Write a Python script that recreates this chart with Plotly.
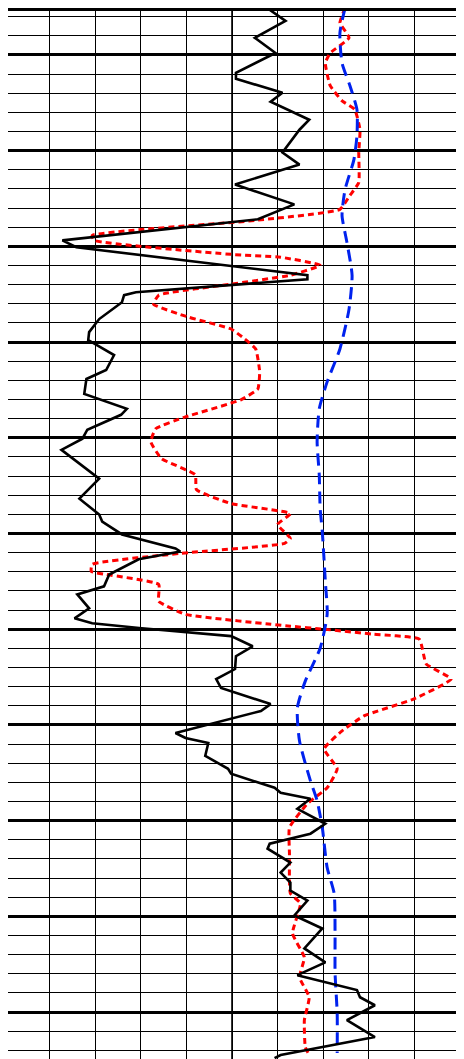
import plotly.graph_objects as go

gr_depth = [975.0, 982.3, 991.1, 999.0, 1009.4, 1012.5, 1019.8, 1024.5, 1033.9, 1039.1,
            1051.0, 1057.3, 1067.7, 1078.1, 1085.9, 1096.9, 1100.5, 1115.1, 1117.2, 1124.0,
            1125.5, 1129.2, 1138.0, 1144.8, 1149.0, 1156.8, 1164.6, 1169.3, 1177.1, 1184.9,
            1188.0, 1195.8, 1200.5, 1206.3, 1221.4, 1231.8, 1240.1, 1243.8, 1250.5, 1257.8,
            1259.4, 1263.5, 1271.4, 1277.6, 1281.8, 1289.1, 1294.3, 1296.9, 1299.5, 1303.6,
            1308.9, 1314.1, 1320.8, 1326.0, 1330.7, 1339.1, 1342.7, 1354.2, 1356.8, 1359.4,
            1366.1, 1372.9, 1375.5, 1382.8, 1385.4, 1388.5, 1393.8, 1401.6, 1406.8, 1412.0,
            1414.6, 1421.9, 1427.1, 1432.3, 1436.5, 1441.7, 1449.5, 1456.3, 1466.7, 1474.0,
            1480.7, 1488.5, 1492.2, 1496.4, 1504.2, 1513.0, 1522.4, 1524.0]
gr_value = [86.1, 92.6, 82.5, 89.3, 76.3, 76.3, 91.6, 87.7, 100.4, 97.2,
            91.6, 97.2, 76.0, 95.5, 83.5, 19.2, 23.8, 99.8, 99.8, 43.4,
            39.5, 38.8, 31.3, 28.0, 27.7, 36.2, 33.6, 27.1, 26.4, 40.4,
            38.5, 27.4, 25.8, 18.9, 31.3, 24.8, 31.3, 32.3, 38.8, 56.4,
            58.0, 44.3, 34.6, 32.9, 24.1, 28.0, 23.2, 29.0, 45.3, 74.7,
            81.8, 76.3, 76.0, 69.8, 71.4, 87.7, 84.5, 56.4, 59.7, 67.2,
            66.2, 73.7, 74.7, 89.0, 91.0, 100.8, 96.5, 105.7, 100.8, 87.4,
            86.7, 94.2, 91.0, 94.2, 94.2, 99.8, 95.5, 104.7, 98.8, 105.7,
            96.5, 116.1, 117.1, 122.0, 112.8, 122.0, 91.0, 89.0]

deep_depth = [975.5, 983.3, 991.1, 999.0, 1004.2, 1016.1, 1024.0, 1028.6, 1039.1, 1051.0,
              1066.7, 1073.4, 1080.7, 1086.5, 1094.3, 1096.9, 1104.2, 1105.7, 1109.9, 1115.1,
              1119.8, 1125.5, 1130.2, 1137.0, 1143.2, 1148.4, 1153.6, 1165.6, 1174.5, 1180.2,
              1189.1, 1195.3, 1202.1, 1210.9, 1219.3, 1227.1, 1234.4, 1239.6, 1245.3, 1252.6,
              1255.2, 1260.4, 1266.1, 1269.8, 1271.4, 1276.6, 1285.4, 1292.2, 1298.4, 1300.0,
              1302.6, 1305.2, 1318.2, 1326.0, 1336.5, 1345.3, 1353.1, 1362.5, 1372.9, 1382.8,
              1391.1, 1403.6, 1417.2, 1438.0, 1443.2, 1458.9, 1471.4, 1481.8, 1492.2, 1504.2,
              1518.2, 1522.4]
deep_value = [112.2, 110.5, 113.5, 107.3, 105.7, 107.3, 111.2, 115.4, 117.1, 116.7,
              116.7, 113.8, 110.5, 82.5, 29.0, 29.7, 74.7, 91.0, 104.0, 94.2,
              74.7, 50.9, 49.2, 60.7, 74.7, 79.2, 82.8, 84.1, 83.5, 77.9,
              59.7, 49.9, 48.3, 51.8, 62.9, 63.3, 74.7, 94.2, 90.0, 94.2,
              92.3, 58.0, 29.0, 28.7, 33.6, 50.9, 50.9, 59.7, 94.2, 105.3,
              121.6, 136.6, 138.9, 147.1, 134.7, 118.4, 111.2, 105.3, 109.6, 106.3,
              99.8, 93.9, 93.9, 94.2, 97.5, 94.9, 98.8, 97.2, 100.4, 98.8,
              99.1, 100.4]

shallow_depth = [975.5, 988.5, 1004.2, 1016.1, 1028.6, 1042.2, 1054.7, 1070.3, 1083.9, 1097.9,
                 1115.1, 1132.8, 1153.6, 1170.8, 1184.9, 1202.1, 1219.3, 1237.0, 1249.0, 1275.0,
                 1292.2, 1309.9, 1327.1, 1341.1, 1358.3, 1379.2, 1389.6, 1403.6, 1424.5, 1438.0,
                 1458.9, 1479.7, 1500.5, 1521.4]
shallow_value = [112.2, 110.5, 111.2, 113.8, 116.1, 116.1, 115.1, 112.2, 111.2, 112.8,
                 114.5, 113.5, 110.5, 106.3, 103.7, 103.0, 103.7, 104.0, 104.7, 105.7,
                 106.3, 104.0, 99.1, 96.5, 97.2, 100.8, 103.0, 104.7, 106.3, 108.6,
                 108.9, 108.9, 109.6, 109.6]

fig = go.Figure()

fig.add_trace(go.Scatter(
    x=deep_value, y=deep_depth, mode='lines', name='Deep',
    line=dict(color='#ff0000', width=3, dash='6px,4px', shape='spline', smoothing=0.4)
))
fig.add_trace(go.Scatter(
    x=shallow_value, y=shallow_depth, mode='lines', name='Shallow',
    line=dict(color='#0022ee', width=3, dash='12px,7px', shape='spline', smoothing=0.6)
))
fig.add_trace(go.Scatter(
    x=gr_value, y=gr_depth, mode='lines', name='GR',
    line=dict(color='black', width=2.6)
))

# heavier middle track line
fig.add_vline(x=75, line=dict(color='black', width=1.6), layer='below')

# page body adds an 8px offset, so the track is sized to the rest of the window
fig.update_layout(
    width=456, height=1051,
    margin=dict(l=0, r=0, t=0, b=0),
    paper_bgcolor='white', plot_bgcolor='white',
    showlegend=False,
    xaxis=dict(
        range=[1.31, 150.33], tick0=0, dtick=15,
        showgrid=True, gridcolor='black', gridwidth=1,
        showticklabels=False, zeroline=False, ticks='',
        showline=True, linecolor='black', linewidth=3, mirror=True
    ),
    yaxis=dict(
        range=[1524.48, 977.09], tick0=1000, dtick=50,
        showgrid=True, gridcolor='black', gridwidth=2.6,
        minor=dict(dtick=10, showgrid=True, gridcolor='black', gridwidth=1),
        showticklabels=False, zeroline=False, ticks='',
        showline=True, linecolor='black', linewidth=3, mirror=True
    )
)

fig.write_html("out.html")
